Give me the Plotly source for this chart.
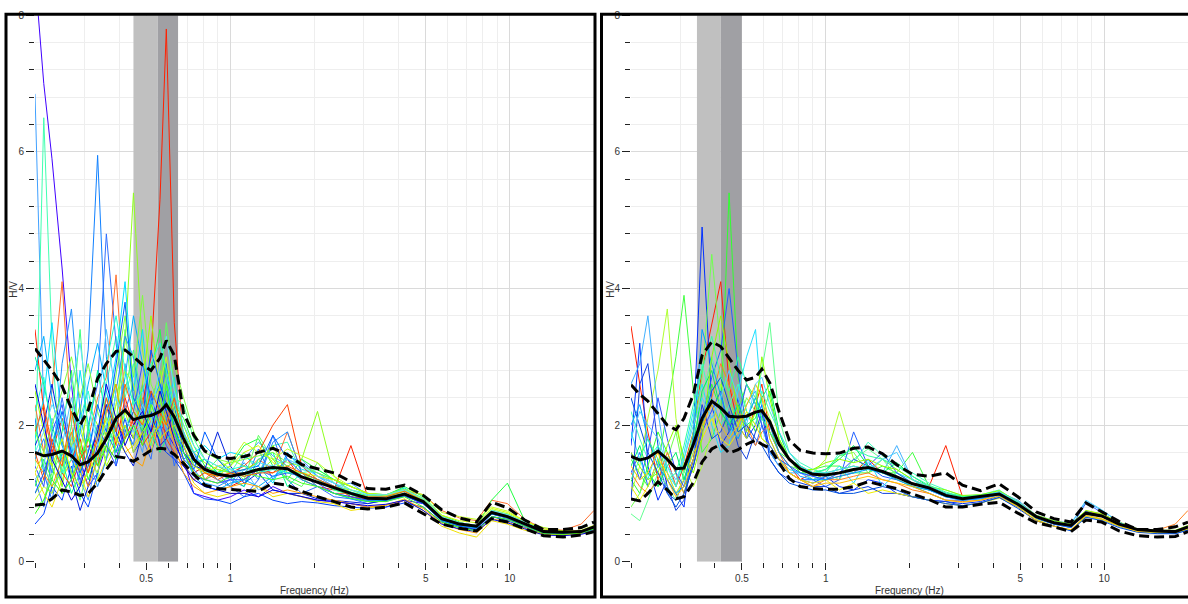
import math
import plotly.graph_objects as go

# ---------------- data ----------------
FREQ = [0.20, 0.215, 0.23, 0.25, 0.27, 0.29, 0.31, 0.335, 0.36, 0.39, 0.42,
        0.45, 0.485, 0.52, 0.56, 0.59, 0.63, 0.68, 0.74, 0.81, 0.90, 1.0,
        1.12, 1.26, 1.42, 1.6, 1.8, 2.05, 2.35, 2.7, 3.1, 3.6, 4.2,
        4.9, 5.7, 6.6, 7.6, 8.6, 9.8, 11.3, 13.2, 15.5, 18.0, 20.0]

L_MEAN = [1.60, 1.55, 1.57, 1.62, 1.55, 1.42, 1.46, 1.59, 1.80, 2.10, 2.22,
          2.08, 2.12, 2.14, 2.20, 2.30, 2.12, 1.80, 1.50, 1.35, 1.28, 1.25,
          1.29, 1.35, 1.38, 1.36, 1.24, 1.16, 1.08, 1.00, 0.93, 0.92, 0.99,
          0.88, 0.63, 0.55, 0.52, 0.72, 0.66, 0.56, 0.44, 0.43, 0.44, 0.51]
L_UPPER = [3.12, 2.95, 2.80, 2.57, 2.24, 2.00, 2.22, 2.68, 2.90, 3.08, 3.10,
           3.00, 2.88, 2.80, 2.98, 3.24, 3.02, 2.18, 1.85, 1.62, 1.53, 1.51,
           1.54, 1.60, 1.66, 1.57, 1.42, 1.36, 1.30, 1.17, 1.07, 1.06, 1.12,
           0.97, 0.76, 0.64, 0.58, 0.87, 0.79, 0.61, 0.47, 0.47, 0.50, 0.58]
L_LOWER = [0.83, 0.84, 0.92, 1.05, 1.02, 0.97, 1.00, 1.15, 1.35, 1.54, 1.52,
           1.47, 1.55, 1.63, 1.66, 1.65, 1.57, 1.44, 1.28, 1.12, 1.07, 1.06,
           1.05, 1.03, 1.15, 1.12, 1.03, 0.95, 0.88, 0.80, 0.77, 0.80, 0.86,
           0.70, 0.55, 0.49, 0.45, 0.63, 0.58, 0.48, 0.38, 0.36, 0.39, 0.44]

R_MEAN = [1.54, 1.49, 1.52, 1.62, 1.50, 1.36, 1.37, 1.72, 2.10, 2.35, 2.25,
          2.13, 2.12, 2.13, 2.19, 2.21, 2.05, 1.72, 1.50, 1.36, 1.28, 1.27,
          1.30, 1.35, 1.38, 1.32, 1.24, 1.14, 1.08, 0.97, 0.92, 0.95, 0.99,
          0.84, 0.66, 0.57, 0.53, 0.71, 0.67, 0.55, 0.47, 0.45, 0.44, 0.51]
R_UPPER = [2.59, 2.45, 2.35, 2.17, 2.00, 1.93, 2.10, 2.45, 3.02, 3.22, 3.15,
           2.98, 2.80, 2.66, 2.70, 2.82, 2.62, 2.20, 1.78, 1.63, 1.59, 1.58,
           1.59, 1.66, 1.68, 1.58, 1.42, 1.28, 1.25, 1.30, 1.12, 1.04, 1.14,
           0.95, 0.73, 0.63, 0.58, 0.86, 0.73, 0.59, 0.47, 0.47, 0.51, 0.58]
R_LOWER = [0.92, 0.89, 1.00, 1.17, 1.05, 0.92, 0.95, 1.16, 1.46, 1.65, 1.72,
           1.59, 1.64, 1.72, 1.78, 1.72, 1.66, 1.45, 1.22, 1.10, 1.07, 1.06,
           1.06, 1.10, 1.17, 1.12, 1.07, 0.99, 0.91, 0.80, 0.80, 0.84, 0.87,
           0.71, 0.57, 0.51, 0.44, 0.61, 0.58, 0.45, 0.38, 0.36, 0.37, 0.44]

L_COLORS = ['#4000ff', '#40a0ff', '#40ffb0', '#1080ff', '#3070ff', '#90ff20',
            '#ff2000', '#ff7030', '#00e0ff', '#20ff40', '#0040ff', '#f0e000',
            '#60ff60', '#2090ff', '#a0ff00', '#00ff90', '#ff4000', '#50c0ff',
            '#0020e0', '#c0ff20', '#40ff80', '#3050ff',
            '#00b0ff', '#80ff40', '#ffa000', '#0060ff', '#20ffd0', '#d0ff00',
            '#0000e0', '#60e0ff', '#40ff20', '#ff6000']

L_WINDOWS = [
    [8.6, 7.0, 5.9, 4.3, 2.6, 1.5, 1.1, 1.3, 1.7, 1.5, 2.0,
     1.8, 2.3, 1.6, 2.0, 1.9, 1.7, 1.5, 1.0, 0.95, 0.9, 0.95,
     1.05, 0.95, 1.1, 1.0, 0.95, 0.9, 0.88, 0.85, 0.8, 0.8, 0.9,
     0.85, 0.62, 0.55, 0.50, 0.70, 0.64, 0.52, 0.42, 0.42, 0.43, 0.50],
    [6.85, 2.2, 1.0, 1.4, 1.9, 1.2, 0.9, 1.6, 2.4, 1.8, 2.9,
     2.0, 1.6, 2.4, 2.7, 1.9, 2.5, 1.6, 1.3, 1.4, 1.2, 1.1,
     1.5, 1.75, 1.55, 1.4, 1.5, 1.25, 1.1, 1.15, 0.98, 0.95, 1.05,
     0.9, 0.65, 0.57, 0.5, 0.74, 0.69, 0.58, 0.45, 0.44, 0.45, 0.52],
    [1.4, 6.5, 3.2, 1.1, 2.3, 1.5, 1.9, 1.2, 2.6, 3.3, 2.4,
     2.9, 1.9, 2.2, 1.8, 2.6, 2.0, 1.7, 1.6, 1.3, 1.35, 1.3,
     1.6, 1.3, 1.7, 1.75, 1.3, 1.35, 1.2, 1.05, 1.0, 0.98, 1.08,
     0.9, 0.6, 0.52, 0.5, 0.7, 0.66, 0.55, 0.44, 0.42, 0.45, 0.5],
    [2.1, 1.3, 0.9, 1.6, 1.2, 2.2, 3.1, 5.95, 3.0, 1.4, 2.0,
     1.7, 2.6, 1.9, 2.3, 2.9, 1.9, 1.5, 1.6, 1.2, 1.3, 1.2,
     1.1, 1.65, 1.2, 1.55, 1.45, 1.25, 1.15, 0.95, 0.88, 0.9, 0.98,
     0.86, 0.64, 0.56, 0.53, 0.73, 0.65, 0.56, 0.45, 0.44, 0.44, 0.5],
    [1.2, 0.8, 1.5, 2.4, 1.7, 1.1, 2.0, 2.6, 4.8, 3.2, 2.2,
     2.6, 1.8, 1.5, 2.4, 2.1, 1.4, 1.9, 1.4, 1.5, 1.3, 1.1,
     0.95, 1.2, 1.85, 1.2, 1.0, 1.1, 0.95, 0.92, 0.85, 0.9, 0.96,
     0.88, 0.64, 0.56, 0.52, 0.7, 0.66, 0.57, 0.44, 0.43, 0.44, 0.5],
    [1.0, 1.2, 1.6, 1.1, 1.8, 2.3, 1.4, 2.0, 1.6, 2.3, 3.2,
     5.4, 3.1, 2.3, 2.8, 2.4, 2.1, 1.9, 1.5, 1.2, 1.3, 1.5,
     1.4, 1.3, 1.5, 1.4, 1.5, 2.2, 1.25, 1.0, 0.95, 0.9, 1.0,
     0.87, 0.63, 0.54, 0.52, 0.72, 0.66, 0.55, 0.44, 0.43, 0.45, 0.5],
    [3.4, 2.2, 1.6, 2.1, 1.5, 1.8, 1.3, 1.9, 2.3, 1.7, 2.4,
     2.0, 2.3, 3.0, 5.3, 7.8, 3.5, 1.7, 1.3, 1.4, 1.2, 1.1,
     1.2, 1.35, 1.3, 1.5, 1.2, 1.1, 1.05, 1.7, 0.95, 0.9, 0.98,
     0.9, 0.66, 0.57, 0.53, 0.72, 0.67, 0.56, 0.45, 0.44, 0.44, 0.51],
    [2.3, 1.6, 2.5, 4.1, 2.0, 1.3, 1.8, 2.4, 2.7, 4.2, 2.3,
     1.9, 2.4, 2.0, 1.6, 2.3, 1.8, 1.6, 1.3, 1.2, 1.4, 1.3,
     1.3, 1.5, 1.35, 1.9, 1.3, 1.1, 1.0, 1.0, 0.92, 0.95, 1.04,
     0.98, 0.75, 0.64, 0.6, 0.9, 0.85, 0.62, 0.48, 0.46, 0.55, 0.75],
    [1.8, 2.4, 3.5, 2.0, 1.6, 2.8, 2.0, 1.4, 2.2, 3.0, 4.1,
     2.5, 3.4, 2.1, 1.9, 2.2, 2.7, 1.8, 1.6, 1.7, 1.5, 1.6,
     1.55, 1.4, 1.15, 1.6, 1.35, 1.3, 1.2, 1.1, 1.0, 0.96, 1.08,
     0.9, 0.62, 0.55, 0.51, 0.74, 0.68, 0.57, 0.44, 0.43, 0.44, 0.5],
    [1.1, 1.5, 1.2, 1.9, 2.8, 1.7, 1.2, 1.6, 2.0, 2.6, 1.9,
     2.2, 1.9, 2.8, 3.4, 2.6, 2.3, 2.1, 1.7, 1.4, 1.3, 1.4,
     1.7, 1.8, 1.4, 1.2, 1.5, 1.35, 1.2, 1.1, 1.0, 0.97, 1.1,
     0.95, 0.68, 0.58, 0.5, 0.9, 1.15, 0.6, 0.46, 0.42, 0.45, 0.52],
    [0.55, 0.7, 1.1, 0.9, 1.4, 1.0, 0.8, 1.3, 1.9, 1.6, 2.1,
     1.6, 1.8, 2.5, 1.7, 1.6, 1.5, 1.3, 1.0, 0.92, 0.9, 0.85,
     0.95, 1.0, 0.9, 0.85, 0.88, 0.86, 0.82, 0.8, 0.78, 0.8, 0.86,
     0.8, 0.58, 0.5, 0.46, 0.66, 0.6, 0.5, 0.41, 0.4, 0.41, 0.46],
    [1.3, 1.0, 0.8, 1.2, 1.5, 1.3, 0.95, 1.2, 1.5, 1.8, 1.6,
     1.7, 1.9, 1.6, 2.1, 2.0, 1.8, 1.5, 1.15, 1.0, 0.95, 1.0,
     1.0, 1.1, 0.95, 1.0, 0.95, 0.88, 0.85, 0.75, 0.78, 0.82, 0.92,
     0.75, 0.52, 0.42, 0.36, 0.6, 0.55, 0.46, 0.4, 0.4, 0.41, 0.46],
    [0.8, 0.9, 1.3, 1.6, 1.3, 0.9, 1.4, 1.8, 1.5, 2.0, 3.4,
     2.3, 2.0, 1.7, 2.5, 3.5, 2.6, 1.9, 1.5, 1.3, 1.5, 1.35,
     1.2, 1.85, 1.5, 1.2, 1.1, 1.45, 1.15, 1.0, 0.98, 0.95, 1.0,
     0.88, 0.64, 0.56, 0.5, 0.7, 0.66, 0.55, 0.43, 0.42, 0.44, 0.5],
    [1.5, 1.8, 1.3, 2.9, 3.7, 2.2, 1.5, 1.1, 1.5, 2.5, 3.3,
     3.0, 2.2, 1.8, 2.0, 2.5, 2.1, 1.7, 1.35, 1.15, 1.1, 1.2,
     1.45, 1.2, 1.75, 1.9, 1.3, 1.1, 1.0, 0.95, 0.9, 0.88, 0.96,
     0.85, 0.62, 0.55, 0.51, 0.7, 0.64, 0.55, 0.44, 0.43, 0.44, 0.5],
    [2.5, 1.9, 1.4, 1.0, 1.2, 1.6, 2.3, 2.0, 1.4, 1.7, 2.2,
     1.8, 2.6, 3.6, 2.4, 2.0, 2.3, 2.0, 1.6, 1.45, 1.35, 1.3,
     1.35, 1.45, 1.7, 1.3, 1.3, 1.15, 1.1, 1.05, 0.96, 0.95, 1.05,
     0.9, 0.6, 0.5, 0.48, 0.72, 0.7, 0.58, 0.5, 0.45, 0.42, 0.52],
    [3.0, 2.6, 2.0, 1.5, 1.0, 1.3, 1.9, 2.8, 2.1, 1.6, 1.8,
     2.4, 2.1, 1.9, 1.6, 1.8, 1.9, 1.6, 1.45, 1.5, 1.3, 1.25,
     1.1, 1.5, 1.6, 1.1, 1.3, 1.2, 1.05, 0.98, 0.9, 0.9, 0.98,
     0.88, 0.62, 0.54, 0.5, 0.7, 0.66, 0.55, 0.44, 0.42, 0.43, 0.49],
    [1.6, 1.2, 1.8, 1.3, 1.1, 1.5, 1.7, 1.4, 1.9, 2.1, 1.8,
     2.1, 1.7, 1.9, 2.2, 1.8, 1.6, 1.4, 1.2, 1.3, 1.2, 1.3,
     1.4, 1.6, 2.0, 2.3, 1.4, 1.2, 1.1, 0.95, 0.92, 0.9, 0.98,
     0.86, 0.64, 0.56, 0.52, 0.72, 0.66, 0.55, 0.44, 0.43, 0.44, 0.5],
    [1.2, 1.4, 2.1, 1.7, 2.4, 1.9, 1.6, 2.2, 3.4, 2.4, 1.9,
     1.9, 2.0, 2.4, 1.9, 2.7, 2.2, 1.9, 1.6, 1.35, 1.2, 1.1,
     1.35, 1.05, 1.2, 1.5, 1.4, 1.3, 1.15, 1.0, 0.94, 0.96, 1.05,
     0.92, 0.65, 0.57, 0.53, 0.75, 0.68, 0.57, 0.45, 0.44, 0.45, 0.5],
    [1.7, 2.0, 2.6, 1.8, 1.2, 0.75, 1.1, 1.7, 2.3, 1.9, 1.6,
     1.4, 1.9, 2.2, 1.7, 1.8, 2.3, 1.6, 1.4, 1.35, 1.9, 1.4,
     1.15, 1.3, 1.05, 1.0, 1.0, 0.92, 0.9, 0.88, 0.85, 0.9, 0.97,
     0.85, 0.6, 0.52, 0.47, 0.66, 0.62, 0.53, 0.42, 0.41, 0.42, 0.47],
    [0.9, 1.1, 1.0, 1.4, 1.7, 2.0, 1.5, 1.3, 1.9, 2.3, 2.8,
     2.6, 2.0, 2.2, 2.6, 3.0, 2.2, 1.8, 1.5, 1.3, 1.4, 1.45,
     1.75, 1.6, 1.5, 1.65, 1.55, 1.45, 1.25, 1.1, 1.0, 0.98, 1.06,
     0.98, 0.72, 0.66, 0.62, 0.8, 0.74, 0.6, 0.46, 0.44, 0.45, 0.52],
    [2.0, 1.4, 1.1, 1.3, 2.0, 3.4, 1.8, 1.5, 1.7, 2.0, 2.5,
     3.1, 2.3, 1.8, 2.0, 2.2, 2.4, 2.3, 1.8, 1.5, 1.4, 1.3,
     1.25, 1.3, 1.4, 1.3, 1.3, 1.2, 1.05, 1.0, 0.95, 0.93, 1.0,
     0.88, 0.63, 0.55, 0.5, 0.72, 0.66, 0.56, 0.45, 0.43, 0.44, 0.5],
    [1.4, 1.1, 1.9, 2.3, 1.5, 1.2, 1.4, 2.0, 1.7, 1.4, 1.9,
     2.2, 2.9, 2.4, 2.0, 1.7, 1.5, 1.4, 1.25, 1.2, 1.15, 1.2,
     1.2, 1.35, 1.25, 1.3, 1.25, 1.15, 1.0, 0.95, 0.9, 0.9, 0.96,
     0.86, 0.6, 0.53, 0.48, 0.7, 0.64, 0.54, 0.43, 0.42, 0.43, 0.49],
    [2.8, 3.3, 2.4, 1.7, 1.3, 1.9, 2.6, 3.2, 2.5, 1.9, 2.7,
     3.6, 2.9, 2.3, 2.6, 2.2, 2.0, 1.6, 1.25, 1.1, 1.05, 1.15,
     1.2, 1.1, 1.25, 1.35, 1.2, 1.1, 1.0, 0.92, 0.88, 0.9, 0.98,
     0.86, 0.6, 0.53, 0.49, 0.7, 0.64, 0.54, 0.43, 0.42, 0.43, 0.49],
    [1.9, 1.6, 2.0, 2.5, 3.0, 2.4, 2.9, 2.2, 1.8, 2.7, 3.6,
     2.7, 3.9, 2.6, 2.3, 2.7, 2.9, 2.4, 1.9, 1.6, 1.5, 1.45,
     1.5, 1.55, 1.6, 1.45, 1.4, 1.3, 1.2, 1.1, 1.0, 0.98, 1.06,
     0.93, 0.66, 0.57, 0.53, 0.76, 0.7, 0.58, 0.46, 0.44, 0.45, 0.52],
    [1.5, 1.3, 1.1, 1.5, 1.9, 1.4, 1.1, 1.5, 2.2, 2.6, 1.7,
     1.5, 1.4, 1.8, 2.0, 2.2, 1.7, 1.3, 1.1, 1.0, 1.05, 1.1,
     1.15, 1.1, 1.0, 1.05, 1.0, 0.95, 0.9, 0.85, 0.8, 0.83, 0.9,
     0.78, 0.56, 0.47, 0.42, 0.63, 0.58, 0.49, 0.4, 0.39, 0.42, 0.5],
    [1.0, 1.3, 1.7, 2.2, 1.6, 1.3, 1.6, 2.3, 1.9, 2.9, 3.8,
     2.4, 2.1, 3.1, 2.6, 2.3, 2.0, 1.5, 1.35, 1.9, 1.5, 1.3,
     1.35, 1.4, 1.85, 1.5, 1.3, 1.2, 1.1, 1.0, 0.92, 0.9, 0.97,
     0.85, 0.62, 0.55, 0.5, 0.71, 0.65, 0.55, 0.44, 0.43, 0.44, 0.5],
    [2.2, 2.7, 1.9, 1.3, 1.5, 2.1, 2.5, 1.8, 2.9, 3.6, 2.8,
     2.3, 2.5, 2.9, 3.2, 2.8, 2.3, 1.8, 1.5, 1.35, 1.3, 1.35,
     1.4, 1.3, 1.35, 1.3, 1.3, 1.2, 1.1, 1.02, 0.96, 0.95, 1.03,
     0.9, 0.64, 0.56, 0.52, 0.73, 0.67, 0.56, 0.45, 0.44, 0.44, 0.51],
    [1.3, 1.6, 1.4, 1.8, 1.3, 1.1, 1.3, 1.6, 2.1, 1.8, 2.0,
     1.6, 1.9, 2.1, 1.8, 1.9, 2.0, 1.7, 1.4, 1.3, 1.25, 1.4,
     1.6, 1.7, 1.45, 1.35, 1.3, 1.25, 1.2, 1.1, 1.0, 0.97, 1.04,
     0.91, 0.68, 0.6, 0.57, 0.78, 0.72, 0.6, 0.47, 0.45, 0.46, 0.53],
    [2.6, 2.0, 1.5, 1.2, 0.9, 1.1, 1.5, 1.9, 2.6, 2.1, 1.7,
     2.0, 2.2, 1.9, 2.5, 2.2, 1.8, 1.4, 1.2, 1.1, 1.05, 1.0,
     1.0, 0.95, 1.05, 1.0, 0.95, 0.9, 0.88, 0.85, 0.82, 0.84, 0.9,
     0.75, 0.55, 0.48, 0.44, 0.62, 0.57, 0.48, 0.39, 0.38, 0.4, 0.45],
    [1.6, 1.9, 2.3, 2.0, 2.6, 3.2, 2.3, 1.7, 2.0, 2.4, 2.1,
     1.9, 2.3, 2.0, 2.9, 3.3, 2.5, 2.0, 1.7, 1.5, 1.4, 1.35,
     1.3, 1.45, 1.4, 1.5, 1.4, 1.25, 1.15, 1.05, 0.98, 0.98, 1.05,
     0.92, 0.66, 0.57, 0.53, 0.75, 0.69, 0.58, 0.46, 0.44, 0.45, 0.51],
    [0.7, 0.9, 1.2, 1.0, 1.2, 1.5, 1.8, 1.4, 1.7, 1.5, 1.8,
     2.0, 1.7, 2.3, 2.0, 2.6, 1.9, 1.6, 1.3, 1.2, 1.15, 1.25,
     1.3, 1.25, 1.2, 1.25, 1.15, 1.1, 1.0, 0.93, 0.88, 0.88, 0.95,
     0.8, 0.58, 0.5, 0.45, 0.66, 0.62, 0.52, 0.41, 0.4, 0.42, 0.48],
    [1.9, 2.3, 1.7, 1.4, 2.2, 1.6, 1.3, 1.8, 2.4, 1.9, 2.6,
     2.2, 2.0, 2.5, 2.2, 2.0, 2.4, 1.8, 1.5, 1.3, 1.25, 1.3,
     1.25, 1.3, 1.3, 1.4, 1.3, 1.2, 1.1, 1.0, 0.95, 0.95, 1.03,
     0.89, 0.64, 0.56, 0.52, 0.73, 0.67, 0.56, 0.45, 0.44, 0.45, 0.51],
]

R_COLORS = ['#ff2000', '#0030ff', '#30ff30', '#70ff50', '#2060ff', '#40ff40',
            '#b0ff30', '#40b0ff', '#20e0ff', '#60ff90', '#ff8020', '#1040e0',
            '#40ffc0', '#f0f000', '#3050ff', '#00f060',
            '#00a0ff', '#90ff00', '#0050e0', '#30ffa0', '#ffc000', '#50d0ff']

R_WINDOWS = [
    [3.45, 2.6, 1.9, 1.2, 1.5, 1.1, 1.4, 1.9, 2.8, 3.5, 4.1,
     2.6, 2.0, 1.8, 2.3, 2.6, 1.9, 1.6, 1.4, 1.2, 1.3, 1.2,
     1.25, 1.3, 1.5, 1.3, 1.25, 1.15, 1.1, 1.7, 0.95, 0.95, 1.0,
     0.85, 0.66, 0.57, 0.53, 0.72, 0.68, 0.56, 0.46, 0.45, 0.44, 0.5],
    [1.7, 3.2, 1.4, 0.9, 1.2, 1.0, 0.8, 1.9, 4.9, 2.3, 1.7,
     1.9, 2.4, 1.8, 2.0, 2.3, 1.6, 1.5, 1.3, 1.2, 1.15, 1.25,
     1.1, 1.05, 1.2, 1.15, 1.0, 0.95, 0.9, 0.88, 0.85, 0.88, 0.96,
     0.82, 0.65, 0.56, 0.5, 0.7, 0.66, 0.55, 0.47, 0.45, 0.44, 0.5],
    [1.2, 1.0, 1.4, 1.9, 1.6, 1.3, 1.0, 1.5, 2.0, 2.6, 2.2,
     5.4, 2.7, 2.2, 1.9, 2.1, 2.5, 1.8, 1.5, 1.3, 1.3, 1.3,
     1.35, 1.4, 1.35, 1.3, 1.3, 1.15, 1.1, 1.0, 0.95, 0.95, 1.0,
     0.86, 0.66, 0.58, 0.54, 0.72, 0.68, 0.56, 0.47, 0.45, 0.45, 0.52],
    [0.8, 1.0, 1.3, 1.1, 1.5, 1.9, 1.3, 1.9, 2.7, 4.5, 3.1,
     2.4, 2.0, 2.4, 2.2, 1.8, 1.7, 1.5, 1.4, 1.35, 1.2, 1.3,
     1.55, 1.6, 1.3, 1.5, 1.35, 1.2, 1.05, 0.98, 0.93, 0.95, 1.0,
     0.84, 0.65, 0.56, 0.52, 0.7, 0.66, 0.55, 0.46, 0.44, 0.44, 0.5],
    [1.3, 1.6, 1.1, 1.5, 1.0, 0.9, 1.2, 1.5, 2.1, 2.7, 3.1,
     4.0, 2.8, 1.9, 1.7, 2.0, 1.6, 1.4, 1.3, 1.2, 1.2, 1.1,
     1.2, 1.9, 1.4, 1.25, 1.2, 1.1, 1.0, 0.9, 0.9, 0.92, 0.98,
     0.82, 0.63, 0.55, 0.5, 0.86, 0.72, 0.55, 0.45, 0.44, 0.43, 0.49],
    [1.5, 1.3, 1.1, 1.4, 2.2, 3.0, 3.9, 2.5, 1.6, 1.8, 2.2,
     1.9, 2.2, 2.6, 2.4, 2.1, 1.9, 1.6, 1.5, 1.3, 1.35, 1.4,
     1.4, 1.3, 1.3, 1.4, 1.3, 1.6, 1.1, 1.0, 0.96, 0.96, 1.02,
     0.88, 0.67, 0.58, 0.53, 0.72, 0.68, 0.56, 0.46, 0.45, 0.44, 0.5],
    [1.0, 1.4, 2.1, 2.8, 3.7, 2.1, 1.4, 1.1, 1.4, 1.9, 2.6,
     2.3, 2.0, 1.8, 2.2, 2.4, 2.1, 1.7, 1.5, 1.4, 1.3, 1.5,
     2.2, 1.5, 1.4, 1.3, 1.2, 1.1, 1.05, 1.0, 0.95, 0.96, 1.0,
     0.86, 0.66, 0.57, 0.53, 0.71, 0.67, 0.55, 0.46, 0.45, 0.45, 0.51],
    [2.6, 2.9, 3.6, 2.2, 1.3, 1.0, 1.2, 1.6, 2.2, 2.4, 2.0,
     1.8, 1.9, 2.3, 2.5, 2.0, 1.6, 1.4, 1.3, 1.3, 1.2, 1.25,
     1.3, 1.3, 1.45, 1.3, 1.7, 1.2, 1.1, 1.0, 0.92, 0.95, 1.02,
     0.9, 0.68, 0.6, 0.56, 0.88, 0.75, 0.58, 0.46, 0.45, 0.44, 0.5],
    [1.9, 1.5, 1.2, 1.7, 1.3, 1.1, 1.6, 2.2, 2.6, 2.0, 1.6,
     1.7, 2.5, 3.0, 3.4, 2.3, 1.8, 1.5, 1.35, 1.3, 1.25, 1.2,
     1.4, 1.15, 1.5, 1.1, 1.3, 1.2, 1.05, 0.95, 0.9, 0.92, 0.98,
     0.82, 0.64, 0.55, 0.5, 0.72, 0.66, 0.55, 0.46, 0.43, 0.42, 0.48],
    [0.7, 0.6, 0.9, 1.3, 1.1, 0.9, 1.3, 1.8, 2.4, 3.0, 2.5,
     2.1, 1.9, 2.1, 2.4, 2.8, 3.5, 2.1, 1.6, 1.4, 1.3, 1.3,
     1.2, 1.5, 1.65, 1.5, 1.25, 1.1, 1.05, 0.98, 0.93, 0.95, 1.0,
     0.84, 0.65, 0.56, 0.52, 0.7, 0.66, 0.55, 0.46, 0.44, 0.44, 0.5],
    [1.3, 1.1, 1.0, 1.2, 1.6, 1.3, 1.0, 1.4, 1.9, 2.4, 2.9,
     2.6, 2.2, 2.0, 1.7, 1.9, 2.0, 1.6, 1.3, 1.2, 1.1, 1.2,
     1.2, 1.25, 1.3, 1.2, 1.15, 1.05, 1.0, 0.9, 0.88, 0.9, 1.0,
     0.84, 0.65, 0.57, 0.53, 0.74, 0.7, 0.58, 0.47, 0.46, 0.55, 0.75],
    [0.9, 2.6, 2.9, 1.7, 1.1, 0.75, 0.9, 1.5, 2.3, 1.8, 1.9,
     2.2, 1.7, 1.5, 1.9, 2.2, 1.5, 1.3, 1.2, 1.15, 1.1, 1.1,
     1.0, 1.05, 1.1, 1.0, 1.0, 0.95, 0.9, 0.88, 0.82, 0.86, 0.94,
     0.8, 0.6, 0.52, 0.46, 0.66, 0.62, 0.52, 0.44, 0.42, 0.41, 0.47],
    [2.2, 1.8, 1.5, 1.7, 1.4, 1.1, 1.5, 2.1, 2.9, 2.3, 2.0,
     2.3, 2.6, 2.2, 2.0, 2.5, 2.2, 1.9, 1.6, 1.45, 1.35, 1.3,
     1.6, 1.45, 1.75, 1.55, 1.4, 1.3, 1.15, 1.05, 0.96, 0.98, 1.05,
     0.86, 0.66, 0.57, 0.53, 0.72, 0.67, 0.56, 0.46, 0.45, 0.45, 0.51],
    [1.1, 0.9, 1.1, 1.5, 1.3, 1.0, 1.2, 1.6, 1.8, 2.1, 1.8,
     1.7, 1.9, 2.2, 2.0, 1.8, 1.7, 1.5, 1.3, 1.2, 1.15, 1.2,
     1.05, 1.15, 1.0, 1.05, 1.0, 0.95, 0.9, 0.85, 0.82, 0.86, 0.93,
     0.82, 0.62, 0.52, 0.46, 0.66, 0.62, 0.52, 0.44, 0.42, 0.42, 0.48],
    [1.6, 1.2, 1.6, 2.4, 1.8, 1.3, 1.1, 1.4, 1.9, 2.2, 2.5,
     1.9, 2.1, 2.6, 2.3, 2.0, 1.7, 1.5, 1.4, 1.3, 1.25, 1.2,
     1.3, 1.5, 1.4, 1.6, 1.3, 1.15, 1.05, 0.95, 0.9, 0.93, 0.98,
     0.84, 0.64, 0.55, 0.5, 0.74, 0.66, 0.55, 0.45, 0.44, 0.44, 0.5],
    [1.4, 1.7, 1.3, 1.1, 1.4, 1.6, 1.2, 1.7, 2.5, 2.8, 2.2,
     2.0, 2.3, 2.0, 2.1, 2.4, 2.6, 1.9, 1.5, 1.4, 1.3, 1.35,
     1.5, 1.7, 1.4, 1.3, 1.45, 1.25, 1.1, 1.0, 0.95, 0.96, 1.02,
     0.86, 0.66, 0.57, 0.53, 0.72, 0.67, 0.56, 0.46, 0.45, 0.45, 0.51],
    [2.0, 2.3, 1.8, 1.4, 1.2, 1.0, 1.1, 1.8, 3.4, 2.9, 2.4,
     2.0, 1.8, 2.1, 2.4, 2.2, 2.0, 1.6, 1.4, 1.25, 1.2, 1.2,
     1.25, 1.3, 1.35, 1.3, 1.2, 1.1, 1.05, 0.95, 0.9, 0.93, 0.98,
     0.84, 0.64, 0.56, 0.51, 0.72, 0.66, 0.55, 0.46, 0.44, 0.44, 0.5],
    [1.6, 1.4, 1.2, 1.3, 1.7, 2.0, 1.5, 1.3, 1.8, 3.0, 3.6,
     2.9, 2.2, 1.9, 2.2, 3.0, 2.4, 1.8, 1.5, 1.35, 1.35, 1.45,
     1.5, 1.45, 1.5, 1.4, 1.35, 1.2, 1.1, 1.05, 0.97, 0.98, 1.04,
     0.88, 0.68, 0.6, 0.55, 0.75, 0.7, 0.58, 0.48, 0.46, 0.46, 0.53],
    [2.4, 2.0, 1.6, 1.3, 1.0, 0.8, 1.0, 1.4, 2.0, 2.5, 2.7,
     2.3, 1.9, 2.0, 1.8, 1.7, 1.5, 1.3, 1.15, 1.1, 1.05, 1.05,
     1.0, 1.0, 1.05, 1.1, 1.05, 0.95, 0.9, 0.85, 0.82, 0.86, 0.94,
     0.78, 0.6, 0.52, 0.45, 0.65, 0.6, 0.5, 0.43, 0.41, 0.41, 0.46],
    [1.2, 1.5, 1.8, 1.5, 1.2, 1.3, 1.7, 2.3, 2.8, 3.3, 2.7,
     2.5, 3.0, 2.6, 2.3, 2.1, 1.9, 1.7, 1.5, 1.4, 1.3, 1.35,
     1.55, 1.65, 1.55, 1.5, 1.4, 1.25, 1.12, 1.02, 0.95, 0.97, 1.02,
     0.87, 0.66, 0.57, 0.53, 0.72, 0.67, 0.56, 0.46, 0.45, 0.45, 0.51],
    [1.4, 1.2, 1.3, 1.6, 1.2, 0.95, 1.1, 1.5, 2.0, 2.3, 2.0,
     1.8, 2.0, 2.3, 2.6, 2.4, 1.8, 1.5, 1.3, 1.2, 1.1, 1.15,
     1.15, 1.2, 1.25, 1.2, 1.15, 1.1, 1.0, 0.9, 0.87, 0.9, 0.96,
     0.8, 0.6, 0.52, 0.47, 0.68, 0.63, 0.53, 0.44, 0.43, 0.43, 0.49],
    [1.8, 2.2, 2.0, 1.8, 1.4, 1.2, 1.5, 2.0, 2.4, 2.1, 2.4,
     2.8, 2.4, 2.0, 2.6, 2.7, 2.3, 1.9, 1.6, 1.4, 1.3, 1.3,
     1.35, 1.4, 1.35, 1.5, 1.6, 1.2, 1.1, 1.0, 0.93, 0.96, 1.02,
     0.88, 0.67, 0.58, 0.54, 0.9, 0.76, 0.58, 0.46, 0.45, 0.44, 0.5],
]

# peak frequency bands (f0 - std .. f0 .. f0 + std)
L_BAND = [0.45, 0.55, 0.65]
R_BAND = [0.345, 0.42, 0.50]
BAND_COLORS = ['#c0c0c0', '#a0a0a4']

X_TICKS = [0.5, 1, 5, 10]
X_TICKTEXT = ['0.5', '1', '5', '10']
X_MINOR = [0.2, 0.3, 0.4, 0.6, 0.7, 0.8, 0.9, 2, 3, 4, 6, 7, 8, 9, 20]
Y_TICKS = [0, 2, 4, 6, 8]
Y_RANGE = [0, 8]

# ---------------- figure ----------------
W, H = 1188, 604
FONT = 'Liberation Sans'
fig = go.Figure()

panels = [
    ('x', 'y', L_BAND, L_WINDOWS, L_COLORS, L_MEAN, L_UPPER, L_LOWER),
    ('x2', 'y2', R_BAND, R_WINDOWS, R_COLORS, R_MEAN, R_UPPER, R_LOWER),
]
for xa, ya, band, wins, cols, mean, up, lo in panels:
    # peak bands as filled areas (drawn above grid, below curves)
    for i in range(2):
        a, b = band[i], band[i + 1]
        fig.add_trace(go.Scatter(x=[a, a, b, b], y=[Y_RANGE[0], Y_RANGE[1], Y_RANGE[1], Y_RANGE[0]],
                                 mode='lines', fill='toself', fillcolor=BAND_COLORS[i],
                                 line=dict(width=0, color=BAND_COLORS[i]),
                                 xaxis=xa, yaxis=ya, hoverinfo='skip'))
    for vals, c in zip(wins, cols):
        fig.add_trace(go.Scatter(x=FREQ, y=vals, mode='lines', xaxis=xa, yaxis=ya,
                                 line=dict(color=c, width=1), hoverinfo='skip'))
    for s in (lo, up):
        fig.add_trace(go.Scatter(x=FREQ, y=s, mode='lines', xaxis=xa, yaxis=ya,
                                 line=dict(color='black', width=3, dash='10px,5px')))
    fig.add_trace(go.Scatter(x=FREQ, y=mean, mode='lines', xaxis=xa, yaxis=ya,
                             line=dict(color='black', width=3)))

ybot = (H - 567) / H
ytop = (H - 10.5) / H

def xaxis_cfg(domain, anchor):
    return dict(type='log', range=[math.log10(0.2), math.log10(20)], domain=domain,
                anchor=anchor,
                tickmode='array', tickvals=X_TICKS, ticktext=X_TICKTEXT,
                ticks='outside', ticklen=7, tickwidth=1, tickcolor='#222',
                showgrid=True, gridcolor='#dadada', gridwidth=1,
                zeroline=False, showline=False,
                minor=dict(tickmode='array', tickvals=X_MINOR, ticks='outside',
                           ticklen=5, tickwidth=1, tickcolor='#222',
                           showgrid=True, gridcolor='#eeeeee', gridwidth=1),
                tickfont=dict(family=FONT, size=10, color='#333'),
                fixedrange=True)

def yaxis_cfg(anchor):
    return dict(range=Y_RANGE, domain=[ybot, ytop], anchor=anchor,
                tickmode='array', tickvals=Y_TICKS,
                ticks='outside', ticklen=8, tickwidth=1, tickcolor='#222',
                showgrid=True, gridcolor='#dadada', gridwidth=1,
                zeroline=False, showline=False,
                minor=dict(tick0=0, dtick=0.4, ticks='outside', ticklen=5,
                           tickwidth=1, tickcolor='#222', showgrid=True,
                           gridcolor='#eeeeee', gridwidth=1),
                tickfont=dict(family=FONT, size=10, color='#333'),
                fixedrange=True)

fig.update_layout(
    width=W, height=H, margin=dict(l=0, r=0, t=0, b=0),
    paper_bgcolor='white', plot_bgcolor='white', showlegend=False,
    xaxis=xaxis_cfg([35 / W, 594 / W], 'y'),
    yaxis=yaxis_cfg('x'),
    xaxis2=xaxis_cfg([631 / W, 1.0], 'y2'),
    yaxis2=yaxis_cfg('x2'),
)

def px_rect(x0, y0, x1, y1):
    return dict(type='rect', xref='paper', yref='paper',
                x0=x0 / W, x1=x1 / W, y0=1 - y1 / H, y1=1 - y0 / H,
                line=dict(color='black', width=3), fillcolor='rgba(0,0,0,0)', layer='above')

fig.update_layout(shapes=[px_rect(6, 9.5, 595, 603), px_rect(601.5, 9.5, 1196, 603)])

ann = []
for cx, tx in ((14, 314.5), (611, 909.5)):
    ann.append(dict(xref='paper', yref='paper', x=cx / W, y=1 - 290 / H, text='H/V',
                    textangle=-90, showarrow=False, xanchor='center', yanchor='middle',
                    font=dict(family=FONT, size=10, color='#333')))
    ann.append(dict(xref='paper', yref='paper', x=tx / W, y=1 - 596 / H, text='Frequency (Hz)',
                    showarrow=False, xanchor='center', yanchor='middle',
                    font=dict(family=FONT, size=10, color='#333')))
fig.update_layout(annotations=ann)

fig.write_html('out.html', config={'displayModeBar': False},
               post_script="document.body.style.margin='0px';document.body.style.overflow='hidden';")
